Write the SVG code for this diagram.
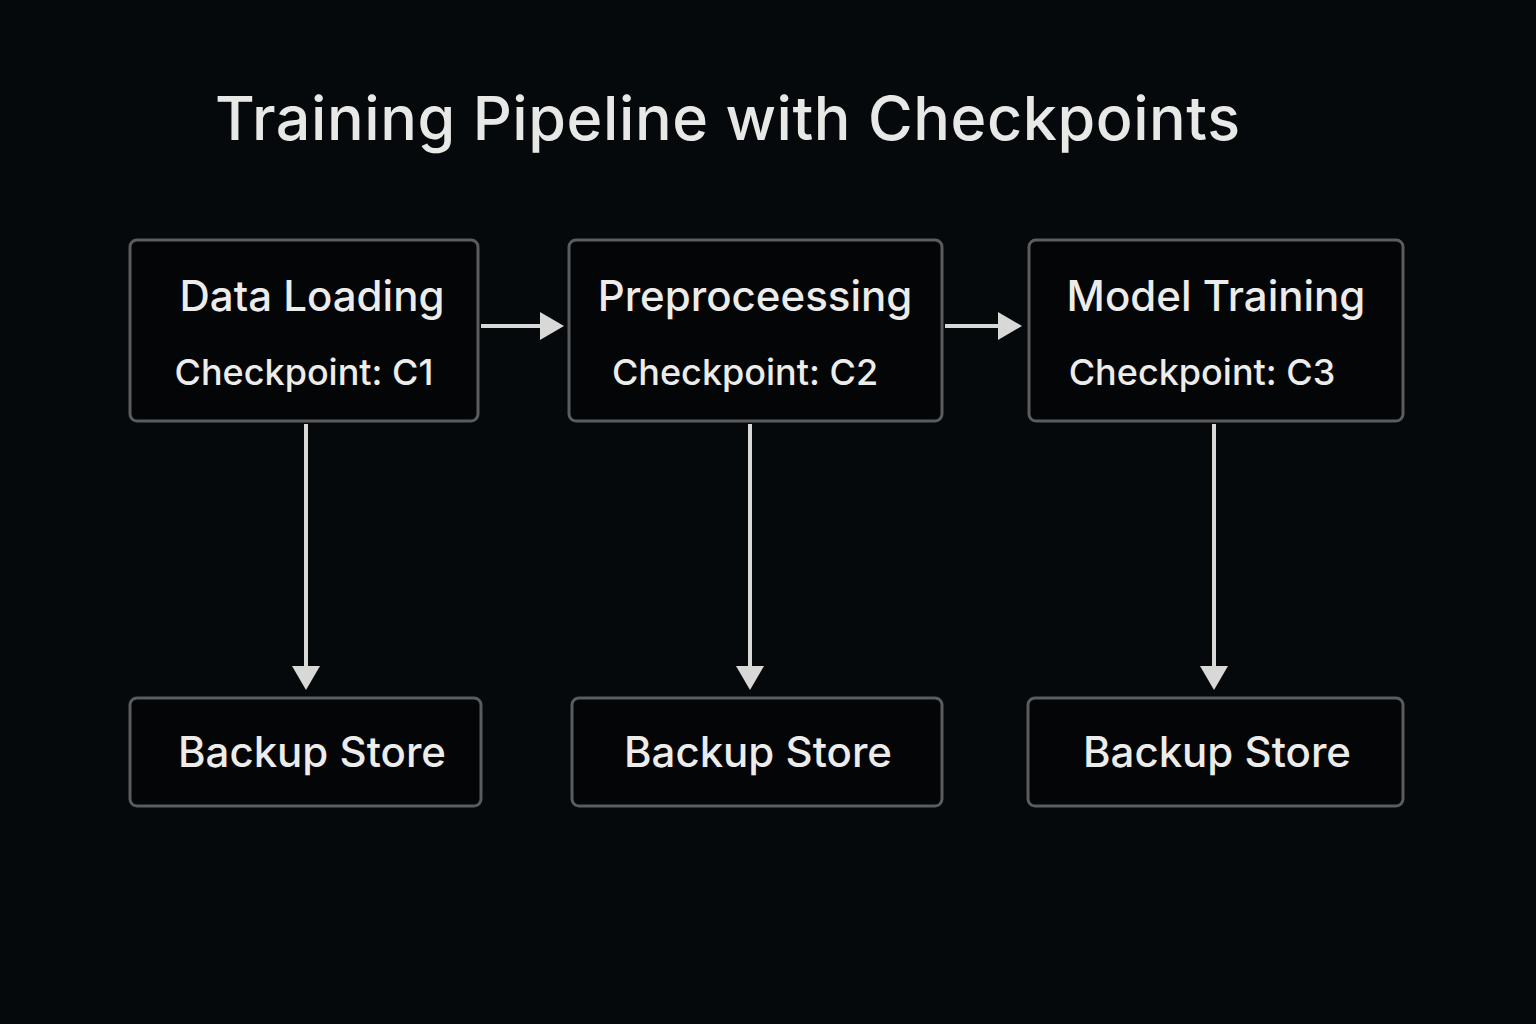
<svg xmlns="http://www.w3.org/2000/svg" width="1536" height="1024" viewBox="0 0 1536 1024">
<style>
.box{fill:#040506;stroke:#5a5c5e;stroke-width:3}
.t{font-family:Inter,"Open Sans",sans-serif;fill:#ececea;font-size:42px;font-weight:500}
.s{font-family:Inter,"Open Sans",sans-serif;fill:#ececea;font-size:36px;font-weight:500}
.c{stroke:#d8d8d6;stroke-width:4;fill:none}
.h{fill:#d8d8d6}
</style>
<rect width="1536" height="1024" fill="#05090c"/>
<text x="215" y="140" font-family="Inter,'Open Sans',sans-serif" font-size="61" font-weight="500" fill="#e8e8e6" textLength="1025">Training Pipeline with Checkpoints</text>
<g id="connectors">
<line class="c" x1="481" y1="326" x2="542" y2="326"/><polygon class="h" points="540,312 564,326 540,340"/>
<line class="c" x1="945" y1="326" x2="1000" y2="326"/><polygon class="h" points="998,312 1022,326 998,340"/>
<line class="c" x1="306" y1="424" x2="306" y2="668"/><polygon class="h" points="292,666 306,690 320,666"/>
<line class="c" x1="750" y1="424" x2="750" y2="668"/><polygon class="h" points="736,666 750,690 764,666"/>
<line class="c" x1="1214" y1="424" x2="1214" y2="668"/><polygon class="h" points="1200,666 1214,690 1228,666"/>
</g>
<g id="n1"><rect class="box" x="130" y="240" width="348" height="181" rx="7"/><text class="t" x="312" y="311" text-anchor="middle">Data Loading</text><text class="s" x="304" y="385" text-anchor="middle">Checkpoint: C1</text></g>
<g id="n2"><rect class="box" x="569" y="240" width="373" height="181" rx="7"/><text class="t" x="755" y="311" text-anchor="middle">Preproceessing</text><text class="s" x="745" y="385" text-anchor="middle">Checkpoint: C2</text></g>
<g id="n3"><rect class="box" x="1029" y="240" width="374" height="181" rx="7"/><text class="t" x="1216" y="311" text-anchor="middle">Model Training</text><text class="s" x="1202" y="385" text-anchor="middle">Checkpoint: C3</text></g>
<g id="b1"><rect class="box" x="130" y="698" width="351" height="108" rx="7"/><text class="t" x="312" y="767" text-anchor="middle">Backup Store</text></g>
<g id="b2"><rect class="box" x="572" y="698" width="370" height="108" rx="7"/><text class="t" x="758" y="767" text-anchor="middle">Backup Store</text></g>
<g id="b3"><rect class="box" x="1028" y="698" width="375" height="108" rx="7"/><text class="t" x="1217" y="767" text-anchor="middle">Backup Store</text></g>
</svg>
